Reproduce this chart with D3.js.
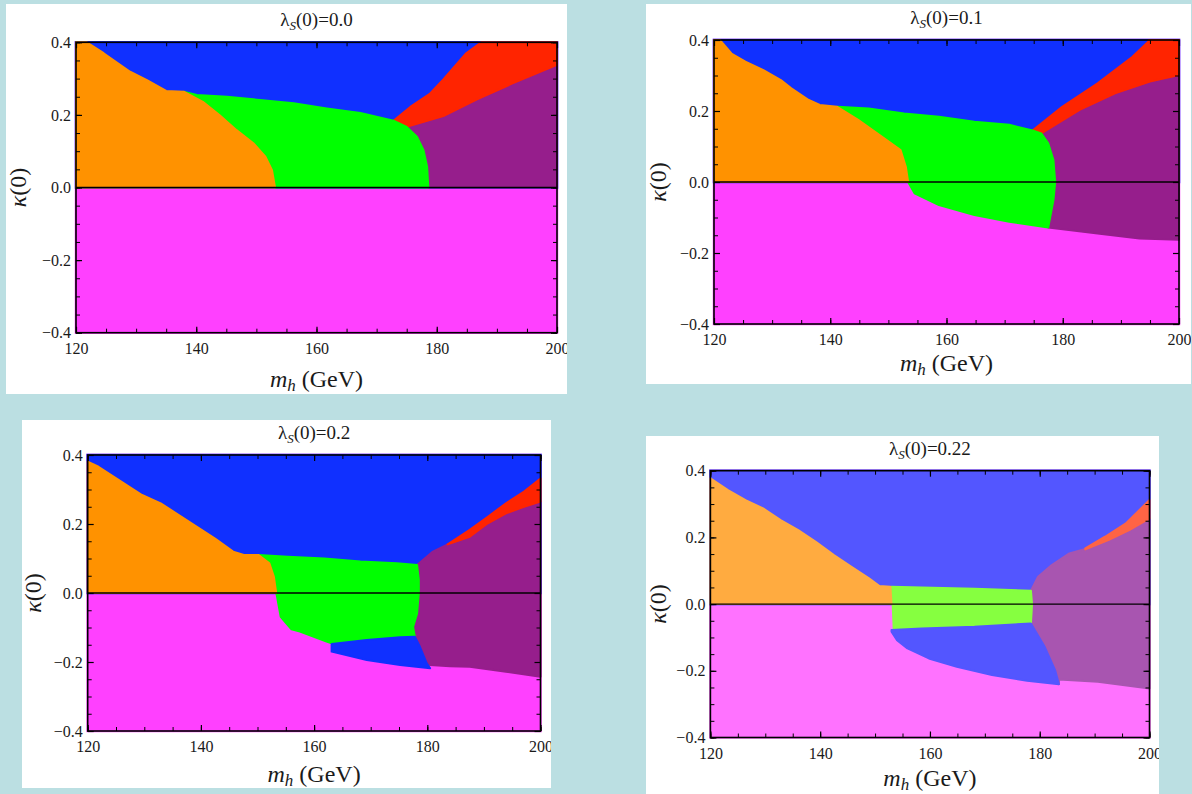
<!DOCTYPE html>
<html>
<head>
<meta charset="utf-8">
<script src="https://cdn.jsdelivr.net/npm/d3@7"></script>
<style>
  body { margin: 0; background: #bbdfe2; }
  svg text { fill: #1a1a1a; }
</style>
</head>
<body>
<svg id="chart" width="1192" height="794"></svg>
<script>
const serif = '"Liberation Serif", "Times New Roman", Times, serif';

// axis values
const xMajor = [120, 140, 160, 180, 200];
const yMajor = [-0.4, -0.2, 0.0, 0.2, 0.4];
const xMinor = d3.range(120, 201, 5);
const yMinor = d3.range(-8, 9).map(i => i * 0.05);
const lambdaS = ["0.0", "0.1", "0.2", "0.22"];

// region outlines, [m_h, kappa(0)]
// lambda_S(0) = 0.0
const p1Orange = [[120,0],[120,0.4],[121.8,0.4],[124.6,0.370],[126.2,0.351],[129.0,0.319],[131.8,0.296],[135.0,0.266],[137.9,0.264],
  [141.1,0.236],[143.9,0.199],[146.7,0.158],[149.5,0.122],[151.5,0.085],[152.6,0.048],[153.1,0]];
const p1Green = [[153.1,0],[152.6,0.048],[151.5,0.085],[149.5,0.122],[146.7,0.158],[143.9,0.199],[141.1,0.236],[137.9,0.264],
  [140.1,0.255],[145.1,0.250],[150.6,0.241],[156.2,0.232],[161.7,0.218],[167.3,0.205],[172.8,0.184],[175.0,0.167],
  [176.7,0.140],[177.8,0.103],[178.4,0.057],[178.6,0]];
const p1Purple = [[178.6,0],[178.4,0.057],[177.8,0.103],[176.7,0.140],[175.0,0.167],[181.1,0.197],[186.7,0.243],[192.5,0.286],
  [200,0.338],[200,0]];
const p1Red = [[172.8,0.184],[175.6,0.222],[178.9,0.259],[181.1,0.298],[184.9,0.370],[187.4,0.4],[200,0.4],[200,0.338],
  [192.5,0.286],[186.7,0.243],[181.1,0.197],[175.0,0.167]];

// lambda_S(0) = 0.1
const p2Orange = [[120,0],[120,0.4],[121,0.4],[123.0,0.362],[125.4,0.339],[128.5,0.315],[131.5,0.287],[133.3,0.264],[136.3,0.231],
  [138.2,0.217],[141.2,0.212],[144.8,0.175],[149.7,0.118],[152.1,0.090],[153.0,0.043],[153.4,0]];
const p2Green = [[153.4,0],[153.0,0.043],[152.1,0.090],[149.7,0.118],[144.8,0.175],[141.2,0.212],[146.6,0.207],[152.7,0.193],
  [158.7,0.184],[164.8,0.170],[170.8,0.161],[174.8,0.145],[176.3,0.137],[177.5,0.109],[178.4,0.062],[178.7,0],
  [178.4,-0.051],[177.5,-0.128],[170.8,-0.112],[164.8,-0.093],[158.7,-0.065],[154.5,-0.032]];
const p2Purple = [[176.3,0.137],[182.9,0.203],[189.0,0.250],[195.0,0.283],[200,0.301],[200,-0.163],[193.2,-0.159],[186,-0.145],
  [177.5,-0.128],[178.4,-0.051],[178.7,0],[178.4,0.062],[177.5,0.109]];
const p2Red = [[174.8,0.145],[179.9,0.212],[186.0,0.278],[192.0,0.353],[194.7,0.395],[194.8,0.4],[200,0.4],[200,0.301],
  [195.0,0.283],[189.0,0.250],[182.9,0.203],[176.3,0.137]];

// lambda_S(0) = 0.2
const p3Orange = [[120,0],[120,0.381],[121.9,0.366],[126.4,0.318],[129.6,0.284],[132.9,0.260],[136.1,0.226],[139.3,0.192],
  [142.5,0.158],[145.7,0.120],[147.6,0.110],[150.2,0.110],[152.1,0.086],[152.9,0.047],[153.3,0]];
const p3Green = [[153.3,0],[152.9,0.047],[152.1,0.086],[150.2,0.110],[155.3,0.105],[161.8,0.100],[168.2,0.091],[174.6,0.086],
  [178.2,0.081],[178.5,0.038],[178.5,0],[178.2,-0.059],[177.5,-0.098],[177.8,-0.127],[175.2,-0.128],[169.3,-0.136],
  [163.1,-0.146],[162.2,-0.141],[157.5,-0.112],[156.0,-0.105],[154.1,-0.069],[153.4,-0.006]];
const p3BlueLow = [[163.1,-0.148],[169.3,-0.136],[175.2,-0.128],[177.8,-0.127],[178.7,-0.156],[179.9,-0.204],[180.5,-0.218],
  [175.2,-0.209],[169.3,-0.194],[163.1,-0.170]];
const p3Purple = [[178.2,0.081],[181.0,0.120],[183.6,0.141],[187.5,0.163],[190.7,0.202],[193.9,0.231],[197.1,0.250],[200,0.265],
  [200,-0.243],[193.9,-0.228],[187.5,-0.214],[184.0,-0.212],[180.5,-0.209],[179.9,-0.204],[178.7,-0.156],[177.8,-0.127],
  [177.5,-0.098],[178.2,-0.059],[178.5,0],[178.5,0.038]];
const p3Red = [[183.6,0.141],[187.5,0.183],[190.7,0.221],[193.9,0.260],[197.1,0.294],[200,0.332],[200,0.265],[197.1,0.250],
  [193.9,0.231],[190.7,0.202],[187.5,0.163]];

// lambda_S(0) = 0.22
const p4Orange = [[120,0],[120,0.377],[123.2,0.342],[126.4,0.312],[129.6,0.287],[132.8,0.252],[136.0,0.222],[139.2,0.187],
  [142.5,0.147],[145.7,0.112],[148.9,0.077],[150.8,0.054],[152.8,0.052],[153.0,0]];
const p4Green = [[153.0,0.052],[158.5,0.050],[168.1,0.046],[178.4,0.040],[178.6,0],[178.4,-0.058],[168.1,-0.068],[158.5,-0.073],
  [153.4,-0.076],[153.2,0]];
const p4BlueLow = [[153.0,-0.078],[158.5,-0.073],[168.1,-0.068],[178.4,-0.058],[180.9,-0.128],[182.8,-0.198],[183.5,-0.240],
  [177.7,-0.230],[171.3,-0.213],[164.9,-0.188],[159.8,-0.163],[155.9,-0.133],[154.0,-0.108],[153.0,-0.083]];
const p4Purple = [[178.4,0.040],[179.7,0.082],[182.2,0.117],[185.4,0.152],[188.3,0.165],[192.5,0.192],[196.3,0.222],[200,0.257],
  [200,-0.253],[190.6,-0.233],[183.5,-0.226],[183.5,-0.240],[182.8,-0.198],[180.9,-0.128],[178.4,-0.058],[178.6,0]];
const p4Red = [[188.3,0.167],[191.9,0.202],[195.7,0.242],[200,0.312],[200,0.257],[196.3,0.222],[192.5,0.192],[188.3,0.164]];

const regions = [
  [[p1Purple, "purple"], [p1Red, "red"], [p1Green, "green"], [p1Orange, "orange"]],
  [[p2Purple, "purple"], [p2Red, "red"], [p2Green, "green"], [p2Orange, "orange"]],
  [[p3Purple, "purple"], [p3Red, "red"], [p3Green, "green"], [p3BlueLow, "blue"], [p3Orange, "orange"]],
  [[p4Purple, "purple"], [p4Red, "red"], [p4Green, "green"], [p4BlueLow, "blue"], [p4Orange, "orange"]]
];

const bright = { magenta: "#ff40ff", blue: "#1030ff", orange: "#ff9200", green: "#00ff00", red: "#ff2400", purple: "#961e8c" };
const pale = { magenta: "#ff72ff", blue: "#5356ff", orange: "#ffab40", green: "#86ff40", red: "#ff6444", purple: "#a855b0" };

// box = white card [x0,y0,x1,y1], plot = frame [x0,y0,x1,y1]
const layout = [
  { box: [6, 4, 567, 394], plot: [76, 42.3, 557, 332.7], xlab: 54, ylab: 58, colors: bright },
  { box: [646, 4, 1191, 384], plot: [714, 40, 1179, 324], xlab: 47, ylab: 56, colors: bright },
  { box: [22, 420, 551, 788], plot: [87.7, 455, 540.5, 731], xlab: 51, ylab: 55, colors: bright },
  { box: [646, 436, 1159, 794], plot: [710.4, 470.7, 1149.5, 737.5], xlab: 48, ylab: 53, colors: pale }
];

const svg = d3.select("#chart");
const defs = svg.append("defs");

layout.forEach((L, i) => {
  const [bx0, by0, bx1, by1] = L.box;
  const [px0, py0, px1, py1] = L.plot;
  const c = L.colors;

  defs.append("clipPath").attr("id", "clip" + i)
    .append("rect").attr("x", bx0).attr("y", by0).attr("width", bx1 - bx0).attr("height", by1 - by0);

  const g = svg.append("g").attr("clip-path", "url(#clip" + i + ")");
  g.append("rect").attr("x", bx0).attr("y", by0).attr("width", bx1 - bx0).attr("height", by1 - by0).attr("fill", "#fff");

  const x = d3.scaleLinear().domain([120, 200]).range([px0, px1]);
  const y = d3.scaleLinear().domain([-0.4, 0.4]).range([py1, py0]);
  const line = d3.line().x(d => x(d[0])).y(d => y(d[1]));

  // background regions: whole plane magenta, upper half blue
  g.append("rect").attr("x", x(120)).attr("y", y(0.4)).attr("width", x(200) - x(120)).attr("height", y(-0.4) - y(0.4))
    .attr("fill", c.magenta).attr("stroke", c.magenta).attr("stroke-width", 2.5);
  g.append("rect").attr("x", x(120)).attr("y", y(0.4)).attr("width", x(200) - x(120)).attr("height", y(0) - y(0.4))
    .attr("fill", c.blue).attr("stroke", c.blue).attr("stroke-width", 2.5);

  g.selectAll("path.region").data(regions[i]).enter().append("path")
    .attr("class", "region")
    .attr("d", d => line(d[0]) + "Z")
    .attr("fill", d => c[d[1]])
    .attr("stroke", d => c[d[1]])
    .attr("stroke-width", 2)
    .attr("stroke-linejoin", "round");

  // kappa = 0 line
  g.append("line").attr("x1", x(120)).attr("x2", x(200)).attr("y1", y(0)).attr("y2", y(0))
    .attr("stroke", "#000").attr("stroke-width", 1.4);

  // ticks on all four sides, pointing inward
  const axes = [
    [d3.axisBottom(x), "translate(0," + py1 + ")", xMinor, xMajor, true],
    [d3.axisTop(x), "translate(0," + py0 + ")", xMinor, xMajor, false],
    [d3.axisLeft(y), "translate(" + px0 + ",0)", yMinor, yMajor, true],
    [d3.axisRight(y), "translate(" + px1 + ",0)", yMinor, yMajor, false]
  ];
  axes.forEach(([ax, tr, minor, major, labels], k) => {
    const isX = k < 2;
    g.append("g").attr("transform", tr)
      .call(ax.tickValues(minor).tickSize(-4).tickFormat(""))
      .call(s => s.select(".domain").remove())
      .call(s => s.selectAll("line").attr("stroke", "#000").attr("stroke-width", 1));
    const a = ax.tickValues(major).tickSize(-6).tickPadding(isX ? 10 : 5)
      .tickFormat(labels ? (isX ? d3.format("d") : d3.format(".1f")) : "");
    g.append("g").attr("transform", tr).call(a)
      .attr("font-family", null).attr("font-size", null)
      .call(s => s.select(".domain").remove())
      .call(s => s.selectAll("line").attr("stroke", "#000").attr("stroke-width", 1.2))
      .call(s => s.selectAll("text").style("font-family", serif).style("font-size", "16px").attr("fill", "#1a1a1a"));
  });

  g.append("rect").attr("x", px0).attr("y", py0).attr("width", px1 - px0).attr("height", py1 - py0)
    .attr("fill", "none").attr("stroke", "#000").attr("stroke-width", 1.6);

  // title
  const cx = (px0 + px1) / 2;
  const t = g.append("text").attr("x", cx).attr("y", py0 - 16).attr("text-anchor", "middle")
    .style("font-family", serif).style("font-size", "19px");
  t.append("tspan").text("λ");
  t.append("tspan").style("font-size", "13px").attr("font-style", "italic").attr("dy", 4).text("S");
  t.append("tspan").attr("dy", -4).text("(0)=" + lambdaS[i]);

  // x label
  const xl = g.append("text").attr("x", cx).attr("y", py1 + L.xlab).attr("text-anchor", "middle")
    .style("font-family", serif).style("font-size", "24px");
  xl.append("tspan").attr("font-style", "italic").text("m");
  xl.append("tspan").attr("font-style", "italic").style("font-size", "17px").attr("dy", 4).text("h");
  xl.append("tspan").attr("dy", -4).text(" (GeV)");

  // y label
  const yl = g.append("text").attr("transform", "translate(" + (px0 - L.ylab) + "," + y(0) + ") rotate(-90)")
    .attr("text-anchor", "middle").attr("dy", "0.35em")
    .style("font-family", serif).style("font-size", "24px");
  yl.append("tspan").attr("font-style", "italic").text("κ");
  yl.append("tspan").text("(0)");
});
</script>
</body>
</html>
